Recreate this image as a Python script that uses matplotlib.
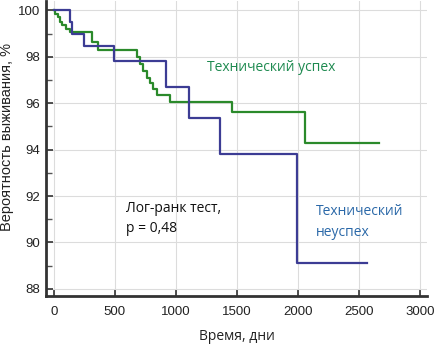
import numpy as np
import matplotlib.pyplot as plt

# Kaplan-Meier steps (days, survival %)
success_days = [0, 10, 30, 50, 70, 95, 130, 310, 365, 680, 705, 730, 760, 790, 815, 845, 870, 950, 1460, 2057, 2664]
success_surv = [100, 99.85, 99.7, 99.5, 99.35, 99.2, 99.05, 98.65, 98.3, 98.0, 97.7, 97.4, 97.1, 96.85, 96.6, 96.35, 96.35, 96.03, 95.6, 94.27, 94.27]

failure_days = [0, 130, 150, 245, 495, 918, 1109, 1361, 1995, 2563]
failure_surv = [100, 99.5, 99.0, 98.45, 97.83, 96.71, 95.38, 93.82, 89.12, 89.12]

x_ticks = [0, 500, 1000, 1500, 2000, 2500, 3000]
y_ticks = [88, 90, 92, 94, 96, 98, 100]

green = "#2b8a2b"
navy = "#3c3c94"

plt.rcParams['font.family'] = ['Liberation Sans', 'DejaVu Sans']

fig = plt.figure(figsize=(4.34, 3.46), dpi=100)
ax = fig.add_axes([0.106, 0.145, 0.878, 0.852])

ax.step(success_days, success_surv, where="post", color=green, lw=1.6, zorder=3)
ax.step(failure_days, failure_surv, where="post", color=navy, lw=1.6, zorder=3)

ax.set_xlim(-65, 3057)
ax.set_ylim(87.7, 100.4)
ax.set_xticks(x_ticks)
ax.set_yticks(y_ticks)
ax.set_yticks(np.arange(89, 100, 2), minor=True)
ax.grid(True, which="major", color="#dcdcdc", lw=0.8)
ax.set_axisbelow(True)

for s in ["top", "right"]:
    ax.spines[s].set_visible(False)
for s in ["left", "bottom"]:
    ax.spines[s].set_color("#333333")
    ax.spines[s].set_linewidth(2)

ax.tick_params(axis="both", which="major", direction="in", length=5, width=1.2,
               color="#333333", labelsize=9.5, labelcolor="#222222")
ax.tick_params(axis="x", pad=7)
ax.tick_params(axis="y", pad=4)
ax.tick_params(axis="y", which="minor", direction="in", length=4, width=1, color="#555555")

txt_font = ['Open Sans', 'DejaVu Sans']
ax.set_xlabel("Время, дни", fontsize=10, family=txt_font, color="#222222")
ax.xaxis.set_label_coords(0.5, -0.112)
ax.set_ylabel("Вероятность выживания, %", fontsize=10.5, color="#222222")
ax.yaxis.set_label_coords(-0.084, 0.54)

ax.text(1250, 97.55, "Технический успех", fontsize=10, family=txt_font, color="#1e8a50", va="center")
ax.text(590, 91.47, "Лог-ранк тест,", fontsize=10, family=txt_font, color="#111111", va="center")
ax.text(590, 90.6, "p = 0,48", fontsize=10, family=txt_font, color="#111111", va="center")
ax.text(2150, 91.34, "Технический", fontsize=10, family=txt_font, color="#2a68a8", va="center")
ax.text(2150, 90.44, "неуспех", fontsize=10, family=txt_font, color="#2a68a8", va="center")

fig.savefig("out.png", dpi=100)
